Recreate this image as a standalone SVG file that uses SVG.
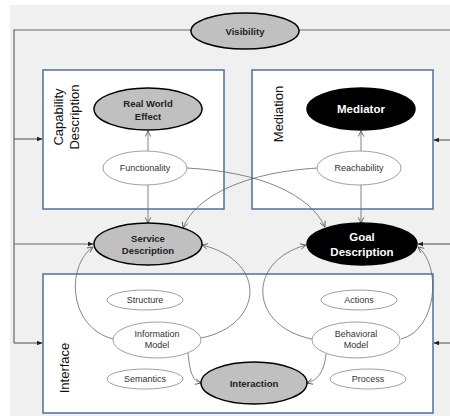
<svg xmlns="http://www.w3.org/2000/svg" width="450" height="416" viewBox="0 0 450 416">
  <defs>
    <marker id="open" viewBox="0 0 10 10" refX="9" refY="5" markerWidth="7" markerHeight="7" orient="auto" markerUnits="userSpaceOnUse">
      <path d="M1,1 L9,5 L1,9" fill="none" stroke="#555" stroke-width="1.2"/>
    </marker>
    <marker id="solid" viewBox="0 0 10 10" refX="9" refY="5" markerWidth="6" markerHeight="6" orient="auto" markerUnits="userSpaceOnUse">
      <path d="M0,1 L10,5 L0,9 Z" fill="#222"/>
    </marker>
    <style>
      .bg { fill: #f0f0f0; }
      .box { fill: #ffffff; stroke: #4f6f9c; stroke-width: 1.5; }
      .frame { fill: none; stroke: #666; stroke-width: 1.2; }
      .link { fill: none; stroke: #666; stroke-width: 0.8; }
      .gray { fill: #c0c0c0; stroke: #000; stroke-width: 1.5; }
      .black { fill: #000; stroke: #000; stroke-width: 1.5; }
      .minor { fill: #fff; stroke: #888; stroke-width: 0.8; }
      text { font-family: "Liberation Sans", Arial, sans-serif; text-anchor: middle; }
      .bold { font-weight: bold; font-size: 9.5px; fill: #222; }
      .big { font-weight: bold; font-size: 11.5px; fill: #fff; }
      .small { font-size: 9px; fill: #333; }
      .title { font-size: 13px; fill: #111; }
    </style>
  </defs>

  <rect class="bg" x="10" y="5" width="440" height="411"/>

  <!-- containers -->
  <g id="capability">
    <rect class="box" x="43" y="70" width="181" height="139"/>
    <text class="title" transform="translate(63,117) rotate(-90)">Capability</text>
    <text class="title" transform="translate(79,117) rotate(-90)">Description</text>
  </g>
  <g id="mediation">
    <rect class="box" x="252" y="70" width="181" height="139"/>
    <text class="title" transform="translate(283,114) rotate(-90)">Mediation</text>
  </g>
  <g id="interface">
    <rect class="box" x="43" y="274" width="390" height="139"/>
    <text class="title" transform="translate(69,368) rotate(-90)">Interface</text>
  </g>

  <!-- connectors -->
  <g id="connectors">
    <!-- outer visibility frame -->
    <path class="frame" d="M191,30 H14 V343"/>
    <path class="frame" d="M299,30 H450"/>
    <path class="frame" d="M14,139 H42" marker-end="url(#solid)"/>
    <path class="frame" d="M14,244 H93" marker-end="url(#solid)"/>
    <path class="frame" d="M14,343 H42" marker-end="url(#solid)"/>
    <path class="frame" d="M450,140 H434" marker-end="url(#solid)"/>
    <path class="frame" d="M450,244 H418" marker-end="url(#solid)"/>
    <path class="frame" d="M450,343 H434" marker-end="url(#solid)"/>

    <!-- capability / mediation -->
    <path class="link" d="M148,151 V131" marker-end="url(#open)"/>
    <path class="link" d="M148,185 V223" marker-end="url(#open)"/>
    <path class="link" d="M361,151 V131" marker-end="url(#open)"/>
    <path class="link" d="M361,185 V223" marker-end="url(#open)"/>
    <path class="link" d="M187,168 C262,172 310,195 325,227" marker-end="url(#open)"/>
    <path class="link" d="M318,168 C248,172 196,195 183,228" marker-end="url(#open)"/>

    <!-- interface models -->
    <path class="link" d="M113,339 C68,327 66,266 93,247" marker-end="url(#open)"/>
    <path class="link" d="M201,338 C262,326 270,262 202,245" marker-end="url(#open)"/>
    <path class="link" d="M312,339 C250,327 245,262 306,245" marker-end="url(#open)"/>
    <path class="link" d="M401,339 C437,330 442,266 418,247" marker-end="url(#open)"/>
    <path class="link" d="M188,353 C190,374 193,381 201,383" marker-end="url(#open)"/>
    <path class="link" d="M326,354 C324,372 318,380 307,383" marker-end="url(#open)"/>
  </g>

  <!-- nodes -->
  <g id="visibility">
    <ellipse class="gray" cx="245" cy="31" rx="54" ry="18"/>
    <text class="bold" x="245" y="34.5">Visibility</text>
  </g>
  <g id="real-world-effect">
    <ellipse class="gray" cx="148" cy="109" rx="54" ry="21"/>
    <text class="bold" x="148" y="106.5">Real World</text>
    <text class="bold" x="148" y="119.5">Effect</text>
  </g>
  <g id="functionality">
    <ellipse class="minor" cx="145" cy="168" rx="42" ry="17"/>
    <text class="small" x="145" y="171">Functionality</text>
  </g>
  <g id="mediator">
    <ellipse class="black" cx="361" cy="109" rx="54" ry="21"/>
    <text class="big" x="361" y="113">Mediator</text>
  </g>
  <g id="reachability">
    <ellipse class="minor" cx="359" cy="168" rx="42" ry="17"/>
    <text class="small" x="359" y="171">Reachability</text>
  </g>
  <g id="service-description">
    <ellipse class="gray" cx="148" cy="244" rx="54" ry="21"/>
    <text class="bold" x="148" y="241.5">Service</text>
    <text class="bold" x="148" y="254">Description</text>
  </g>
  <g id="goal-description">
    <ellipse class="black" cx="362" cy="244" rx="55" ry="21"/>
    <text class="big" x="362" y="241">Goal</text>
    <text class="big" x="362" y="256">Description</text>
  </g>
  <g id="structure">
    <ellipse class="minor" cx="145" cy="300" rx="38" ry="10"/>
    <text class="small" x="145" y="303">Structure</text>
  </g>
  <g id="actions">
    <ellipse class="minor" cx="359" cy="300" rx="38" ry="10"/>
    <text class="small" x="359" y="303">Actions</text>
  </g>
  <g id="information-model">
    <ellipse class="minor" cx="157" cy="340" rx="44" ry="18"/>
    <text class="small" x="157" y="337">Information</text>
    <text class="small" x="157" y="348">Model</text>
  </g>
  <g id="behavioral-model">
    <ellipse class="minor" cx="356" cy="340" rx="44" ry="18"/>
    <text class="small" x="356" y="337">Behavioral</text>
    <text class="small" x="356" y="348">Model</text>
  </g>
  <g id="semantics">
    <ellipse class="minor" cx="145" cy="379" rx="38" ry="10"/>
    <text class="small" x="145" y="382">Semantics</text>
  </g>
  <g id="process">
    <ellipse class="minor" cx="368" cy="379" rx="38" ry="10"/>
    <text class="small" x="368" y="382">Process</text>
  </g>
  <g id="interaction">
    <ellipse class="gray" cx="254" cy="383" rx="53" ry="21"/>
    <text class="bold" x="254" y="386.5">Interaction</text>
  </g>
</svg>
